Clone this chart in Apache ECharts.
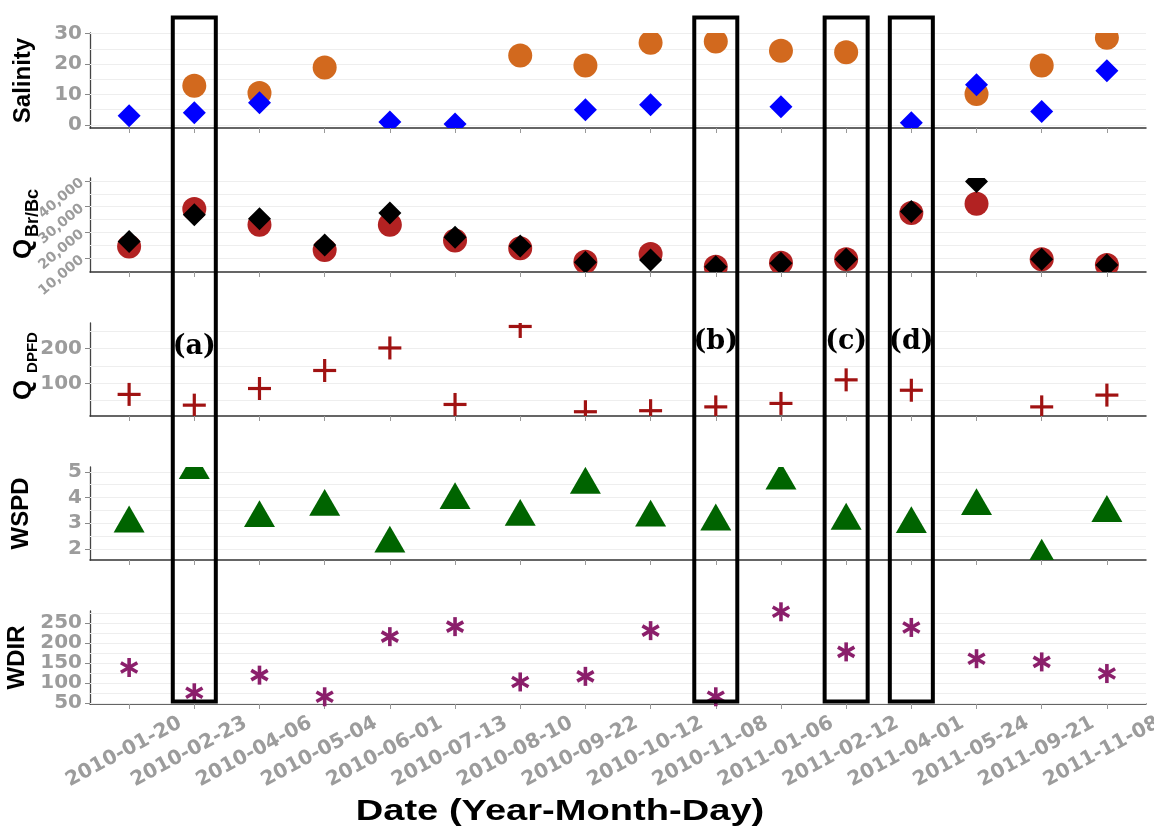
<!DOCTYPE html>
<html><head><meta charset="utf-8">
<script src="https://cdn.jsdelivr.net/npm/echarts@6/dist/echarts.min.js"></script>
<style>html,body{margin:0;padding:0;background:#fff}#c{width:1154px;height:829px}</style>
</head><body><div id="c"></div>
<script>
const dates = ['2010-01-20','2010-02-23','2010-04-06','2010-05-04','2010-06-01','2010-07-13','2010-08-10','2010-09-22','2010-10-12','2010-11-08','2011-01-06','2011-02-12','2011-04-01','2011-05-24','2011-09-21','2011-11-08'];
const salinityCircle  = [null, 12.9, 10.5, 18.9, null, null, 22.8, 19.5, 27.0, 27.4, 24.4, 23.9, null, 10.2, 19.5, 28.6];
const salinityDiamond = [3.0, 4.0, 7.3, null, 1.0, 0.3, null, 5.0, 6.6, null, 6.0, null, 0.7, 13.2, 4.4, 17.8];
const qCircle  = [14520, 29090, 22970, 13230, 22970, 16860, 13900, 8680, 11680, 6730, 8290, 9610, 27530, 31150, 9610, 7390];
const qDiamond = [16470, 26870, 25310, 15180, 27530, 18180, 14790, 8440, 9340, 6730, 8050, 9610, 28150, 39840, 9610, 7390];
const qdpfd = [68, 37, 85, 137, 202, 39, 264, 18, 21, 32, 42, 110, 80, null, 32, 66];
const wspd = [2.99, 5.07, 3.20, 3.64, 2.21, 3.90, 3.25, 4.50, 3.22, 3.07, 4.66, 3.10, 2.97, 3.67, 1.70, 3.40];
const wdir = [139, 76, 120, 66, 216, 241, 103, 117, 231, 66, 278, 178, 239, 161, 153, 124];

const salinityTicks = [0, 10, 20, 30];
const qTicks = [10000, 20000, 30000, 40000];
const qdpfdTicks = [100, 200];
const wspdTicks = [2, 3, 4, 5];
const wdirTicks = [50, 100, 150, 200, 250];

const salinityGridVals = [0, 5, 10, 15, 20, 25, 30];
const qGridVals = [10000, 15000, 20000, 25000, 30000, 35000, 40000];
const qdpfdGridVals = [50, 100, 150, 200, 250];
const wspdGridVals = [2, 2.5, 3, 3.5, 4, 4.5, 5];
const wdirGridVals = [50, 75, 100, 125, 150, 175, 200, 225, 250, 275];

const boxIndex = [1, 9, 11, 12];
const boxLabels = ['(a)', '(b)', '(c)', '(d)'];
const boxLabelValue = [205, 219, 219, 219];   // QDPFD units
const boxTopValue = 35.3;     // salinity units
const boxBottomValue = 54;    // WDIR units

const idx = dates.map((d, i) => i);
const pts = arr => arr.map((v, i) => v == null ? null : [i, v]).filter(Boolean);
const fmtThousands = v => String(v).replace(/\B(?=(\d{3})+(?!\d))/g, ',');

const tickFont = {fontFamily: 'DejaVu Sans', fontWeight: 'bold', fontSize: 20, color: '#9c9c9c'};
const nameFont = {fontFamily: 'Liberation Sans', fontWeight: 'bold', fontSize: 24, color: '#000'};

// sub: [main, subscript, subscript font size, main centre y offset from grid top, subscript centre y offset]
const panels = [
  {top: 33, height: 95, min: -1.0, max: 30.2, ticks: salinityTicks, gridVals: salinityGridVals, name: 'Salinity', gap: 55},
  {top: 178, height: 94, min: 4660, max: 41160, ticks: qTicks, gridVals: qGridVals, sub: ['Q', 'Br/Bc', 18, 71, 35], rotate: 40, fmt: fmtThousands},
  {top: 323, height: 93, min: 5.7, max: 274, ticks: qdpfdTicks, gridVals: qdpfdGridVals, sub: ['Q', 'DPFD', 15, 67, 29.5]},
  {top: 467, height: 93, min: 1.57, max: 5.19, ticks: wspdTicks, gridVals: wspdGridVals, name: 'WSPD', gap: 57},
  {top: 611, height: 93, min: 48, max: 280, ticks: wdirTicks, gridVals: wdirGridVals, name: 'WDIR', gap: 57}
];

const grids = panels.map(p => ({left: 90, right: 8, top: p.top, height: p.height, containLabel: false, outerBoundsMode: 'none'}));
const xAxes = panels.map((p, k) => ({
  type: 'value', gridIndex: k, min: -0.6, max: 15.6,
  axisLine: {show: true, onZero: false, lineStyle: {color: '#333', width: 1.5}},
  axisTick: {show: true, customValues: idx, length: 5, lineStyle: {color: '#999', width: 1}},
  axisLabel: Object.assign({show: k === 4, customValues: idx, formatter: v => dates[Math.round(v)] || '',
    rotate: 28, align: 'center', verticalAlign: 'middle', margin: 45, padding: [0, 12, 0, 0]}, tickFont),
  splitLine: {show: false}
}));
const yAxes = panels.map((p, k) => ({
  type: 'value', gridIndex: k, min: p.min, max: p.max,
  name: p.name || '', nameLocation: 'middle', nameGap: p.gap || 50, nameRotate: 90,
  nameTextStyle: nameFont,
  axisLine: {show: true, onZero: false, lineStyle: {color: '#444', width: 1.3}},
  axisTick: {show: true, customValues: p.ticks, length: 5, lineStyle: {color: '#888', width: 1}},
  axisLabel: Object.assign({customValues: p.ticks, margin: 8,
      formatter: p.fmt || (v => String(v))},
      tickFont,
      p.rotate ? {rotate: p.rotate, align: 'right', verticalAlign: 'middle', fontSize: 14} : {}),
  splitLine: {show: false}
}));

function circle(r) { return (x, y, c) => ({type: 'circle', shape: {cx: x, cy: y, r: r}, style: {fill: c}}); }
function diamond(h) { return (x, y, c) => ({type: 'polygon', shape: {points: [[x, y - h], [x + h, y], [x, y + h], [x - h, y]]}, style: {fill: c}}); }
function plus(h) { return (x, y, c) => ({type: 'group', children: [
  {type: 'line', shape: {x1: x - h, y1: y, x2: x + h, y2: y}, style: {stroke: c, lineWidth: 3.2}},
  {type: 'line', shape: {x1: x, y1: y - h, x2: x, y2: y + h}, style: {stroke: c, lineWidth: 3.2}}]}); }
function triangle(s) { const hgt = s * Math.sqrt(3) / 2; return (x, y, c) => ({type: 'polygon',
  shape: {points: [[x, y - hgt * 2 / 3], [x + s / 2, y + hgt / 3], [x - s / 2, y + hgt / 3]]}, style: {fill: c}}); }
function asterisk(h) { return (x, y, c) => {
  const ch = [];
  [90, 30, 150].forEach(a => { const r = a * Math.PI / 180, dx = Math.cos(r) * h, dy = Math.sin(r) * h;
    ch.push({type: 'line', shape: {x1: x - dx, y1: y + dy, x2: x + dx, y2: y - dy}, style: {stroke: c, lineWidth: 3.6}}); });
  return {type: 'group', children: ch}; }; }

function markSeries(k, arr, shapeFn, color, clip) {
  return {type: 'custom', xAxisIndex: k, yAxisIndex: k, data: pts(arr), clip: clip, z: 10,
    renderItem: (params, api) => { const p = api.coord([api.value(0), api.value(1)]); return shapeFn(p[0], p[1], color); }};
}
const gridSeries = panels.map((p, k) => ({
  type: 'line', xAxisIndex: k, yAxisIndex: k, data: [], z: 1, silent: true,
  markLine: {silent: true, z: 1, symbol: 'none', label: {show: false}, animation: false,
    lineStyle: {color: '#eeeeee', width: 1, type: 'solid'}, data: p.gridVals.map(v => ({yAxis: v}))}
}));

const series = gridSeries.concat([
  markSeries(0, salinityCircle, circle(12), '#D2691E', true),
  markSeries(0, salinityDiamond, diamond(11.5), '#0000FF', true),
  markSeries(1, qCircle, circle(12), '#B22222', true),
  markSeries(1, qDiamond, diamond(11.5), '#000000', true),
  markSeries(2, qdpfd, plus(11.5), '#A01212', true),
  markSeries(3, wspd, triangle(31), '#006400', true),
  markSeries(4, wdir, asterisk(9.5), '#8B1F6B', false)
]);

const chart = echarts.init(document.getElementById('c'), null, {renderer: 'canvas'});
chart.setOption({animation: false, backgroundColor: '#fff', grid: grids, xAxis: xAxes, yAxis: yAxes, series: series});

const g = [];
boxIndex.forEach((bi, k) => {
  const tl = chart.convertToPixel({gridIndex: 0}, [bi - 0.33, boxTopValue]);
  const br = chart.convertToPixel({gridIndex: 4}, [bi + 0.33, boxBottomValue]);
  g.push({type: 'rect', z: 100, shape: {x: tl[0], y: tl[1], width: br[0] - tl[0], height: br[1] - tl[1]},
    style: {fill: 'none', stroke: '#000', lineWidth: 4}});
  const lp = chart.convertToPixel({gridIndex: 2}, [bi, boxLabelValue[k]]);
  g.push({type: 'text', z: 101, x: lp[0], y: lp[1], style: {text: boxLabels[k], font: 'bold 27px "DejaVu Serif"', fill: '#000', align: 'center', verticalAlign: 'middle'}});
});
panels.forEach(p => {
  if (!p.sub) return;
  g.push({type: 'text', z: 50, x: 24, y: p.top + p.sub[3], rotation: Math.PI / 2,
    style: {text: p.sub[0], font: 'bold 26px "Liberation Sans"', fill: '#000', align: 'center', verticalAlign: 'middle'}});
  g.push({type: 'text', z: 50, x: 33, y: p.top + p.sub[4], rotation: Math.PI / 2,
    style: {text: p.sub[1], font: 'bold ' + p.sub[2] + 'px "Liberation Sans"', fill: '#000', align: 'center', verticalAlign: 'middle'}});
});
g.push({type: 'text', z: 101, x: 560, y: 812, scaleX: 1.27, style: {text: 'Date (Year-Month-Day)', font: 'bold 30px "Liberation Sans"', fill: '#000', align: 'center', verticalAlign: 'middle'}});
chart.setOption({graphic: g});
</script></body></html>
